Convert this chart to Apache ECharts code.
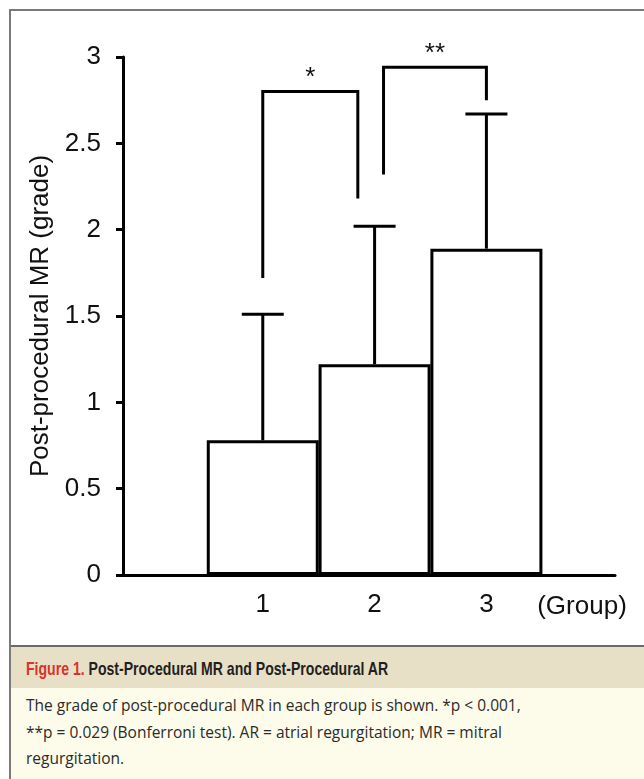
<!DOCTYPE html>
<html>
<head>
<meta charset="utf-8">
<script src="https://cdn.jsdelivr.net/npm/echarts@6/dist/echarts.min.js"></script>
<style>
  body { margin: 0; background: #fff; }
  #wrap { position: relative; width: 644px; height: 779px; overflow: hidden; background: #fff; }
  #chart { position: absolute; left: 0; top: 0; width: 644px; height: 646px; }
  #frame { position: absolute; left: 9px; top: 9px; right: -2px; bottom: -2px; border-left: 2px solid #7a7a7a; border-top: 2px solid #7a7a7a; pointer-events: none; }
  #caption { position: absolute; left: 11px; top: 645px; width: 633px; height: 134px; border-top: 2px solid #6b6b6b; background: #fdfbea; }
  #capTitle { height: 41px; background: #e8e0c6; padding-left: 15px; line-height: 43px; white-space: nowrap; }
  #capTitleText { display: inline-block; transform-origin: left center; font-family: "Liberation Sans", Arial, sans-serif; font-weight: bold; font-size: 19px; color: #231f20; }
  #capTitleText span { color: #d8322a; }
  #capBody { padding: 4px 0 0 15px; font-family: "Open Sans", "Noto Sans", sans-serif; font-size: 15.5px; line-height: 26.5px; color: #2b2b2b; }
</style>
</head>
<body>
<div id="wrap">
  <div id="chart"></div>
  <div id="caption">
    <div id="capTitle"><div id="capTitleText"><span>Figure 1.</span> Post-Procedural MR and Post-Procedural AR</div></div>
    <div id="capBody">The grade of post-procedural MR in each group is shown. *p &lt; 0.001,<br>**p = 0.029 (Bonferroni test). AR = atrial regurgitation; MR = mitral<br>regurgitation.</div>
  </div>
  <div id="frame"></div>
</div>
<script>
// groups and values
const groups = ['1', '2', '3'];
const groupPos = [1, 2, 3];
const means = [0.78, 1.22, 1.89];
const upper = [1.51, 2.02, 2.67];
// significance brackets: [left x, left leg bottom, right x, right leg bottom, top]
const brackets = [
  [1, 1.72, 1.85, 2.18, 2.80],
  [2.08, 2.32, 3, 2.75, 2.94]
];
const bracketMarks = ['*', '**'];

// squeeze the caption title to look like a condensed face
const tt = document.getElementById('capTitleText');
tt.style.transform = 'scaleX(' + (362 / tt.offsetWidth) + ')';

const chart = echarts.init(document.getElementById('chart'));
const font = '"Liberation Sans", Arial, sans-serif';

const barData = groupPos.map((x, i) => [x, means[i]]);
const errData = groupPos.map((x, i) => [x, means[i], upper[i]]);
const brData = brackets.map((b, i) => b.concat([i]));

chart.setOption({
  animation: false,
  grid: { left: 123, right: 29, top: 57, bottom: 71 },
  xAxis: {
    type: 'value',
    min: -0.25,
    max: 4.15,
    splitLine: { show: false },
    axisLine: { onZero: false, lineStyle: { color: '#000', width: 3 } },
    axisTick: { show: false },
    axisLabel: {
      customValues: groupPos,
      formatter: v => groups[groupPos.indexOf(v)] || '',
      color: '#111', fontSize: 26, fontFamily: font, margin: 17
    },
    name: '(Group)',
    nameLocation: 'end',
    nameGap: -33,
    nameTextStyle: { color: '#111', fontSize: 26, fontFamily: font, align: 'center', verticalAlign: 'top', padding: [19, 0, 0, 0] }
  },
  yAxis: {
    type: 'value',
    min: 0,
    max: 3,
    interval: 0.5,
    splitLine: { show: false },
    axisLine: { show: true, onZero: false, lineStyle: { color: '#000', width: 3 } },
    axisTick: { show: true, length: 7, lineStyle: { color: '#000', width: 3 } },
    axisLabel: { color: '#111', fontSize: 26, fontFamily: font, margin: 22 },
    name: 'Post-procedural MR (grade)',
    nameLocation: 'middle',
    nameGap: 66,
    nameTextStyle: { color: '#111', fontSize: 26, fontFamily: font }
  },
  series: [
    {
      type: 'bar',
      data: barData,
      barWidth: 112,
      itemStyle: { color: '#fff', borderColor: '#000', borderWidth: 3 },
      z: 2
    },
    {
      type: 'custom',
      data: errData,
      z: 3,
      renderItem: function (params, api) {
        const x = api.value(0);
        const base = api.coord([x, api.value(1)]);
        const top = api.coord([x, api.value(2)]);
        const half = 21;
        const style = { stroke: '#000', lineWidth: 3, fill: null };
        return {
          type: 'group',
          children: [
            { type: 'line', shape: { x1: base[0], y1: base[1], x2: top[0], y2: top[1] }, style: style },
            { type: 'line', shape: { x1: top[0] - half, y1: top[1], x2: top[0] + half, y2: top[1] }, style: style }
          ]
        };
      }
    },
    {
      type: 'custom',
      data: brData,
      z: 3,
      renderItem: function (params, api) {
        const lb = api.coord([api.value(0), api.value(1)]);
        const lt = api.coord([api.value(0), api.value(4)]);
        const rt = api.coord([api.value(2), api.value(4)]);
        const rb = api.coord([api.value(2), api.value(3)]);
        return {
          type: 'group',
          children: [
            {
              type: 'polyline',
              shape: { points: [lb, lt, rt, rb] },
              style: { stroke: '#000', lineWidth: 3, fill: null }
            },
            {
              type: 'text',
              x: (lt[0] + rt[0]) / 2,
              y: lt[1] - 14,
              style: {
                text: bracketMarks[api.value(5)],
                fontSize: 26, fontFamily: font, fill: '#111',
                align: 'center', verticalAlign: 'middle'
              }
            }
          ]
        };
      }
    }
  ]
});
</script>
</body>
</html>
